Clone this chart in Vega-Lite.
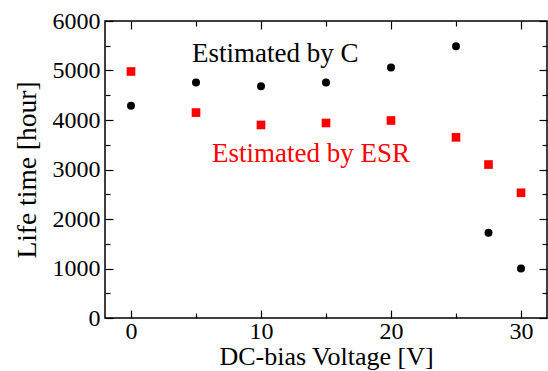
{
  "$schema": "https://vega.github.io/schema/vega-lite/v6.json",
  "width": 442,
  "height": 297,
  "autosize": {"type": "none"},
  "padding": {"left": 105, "top": 21, "right": 1, "bottom": 53},
  "background": "white",
  "config": {
    "view": {"stroke": "black", "strokeWidth": 1.5},
    "axis": {
      "domain": false,
      "grid": false,
      "labelFont": "Liberation Serif",
      "labelFontSize": 24,
      "labelColor": "black",
      "titleFont": "Liberation Serif",
      "titleFontSize": 27.5,
      "titleFontWeight": "normal",
      "titleColor": "black",
      "tickColor": "black",
      "tickWidth": 1.2
    }
  },
  "datasets": {
    "byC": [
      {"voltage": 0, "life": 4290},
      {"voltage": 5, "life": 4760},
      {"voltage": 10, "life": 4680},
      {"voltage": 15, "life": 4760},
      {"voltage": 20, "life": 5060},
      {"voltage": 25, "life": 5490},
      {"voltage": 27.5, "life": 1720},
      {"voltage": 30, "life": 1000}
    ],
    "byESR": [
      {"voltage": 0, "life": 4980},
      {"voltage": 5, "life": 4150},
      {"voltage": 10, "life": 3900},
      {"voltage": 15, "life": 3940},
      {"voltage": 20, "life": 3990},
      {"voltage": 25, "life": 3650},
      {"voltage": 27.5, "life": 3100},
      {"voltage": 30, "life": 2530}
    ],
    "labels": [
      {"voltage": 4.69, "life": 5178, "text": "Estimated by C", "series": "C"},
      {"voltage": 6.23, "life": 3158, "text": "Estimated by ESR", "series": "ESR"}
    ]
  },
  "resolve": {"axis": {"x": "independent", "y": "independent"}},
  "layer": [
    {
      "data": {"name": "byC"},
      "mark": {"type": "point", "shape": "circle", "filled": true, "color": "black", "size": 64, "opacity": 1},
      "encoding": {
        "x": {
          "field": "voltage", "type": "quantitative",
          "scale": {"domain": [-2, 32], "nice": false, "zero": false},
          "axis": {
            "orient": "bottom",
            "title": "DC-bias Voltage [V]",
            "titleFontSize": 26,
            "values": [0, 5, 10, 15, 20, 25, 30],
            "labelExpr": "datum.value % 10 === 0 ? datum.label : ''",
            "tickSize": {"condition": {"test": "datum.value % 10 === 0", "value": -8}, "value": -5},
            "labelPadding": 9,
            "titlePadding": 0
          }
        },
        "y": {
          "field": "life", "type": "quantitative",
          "scale": {"domain": [0, 6000], "nice": false},
          "axis": {
            "orient": "left",
            "title": "Life time [hour]",
            "values": [0, 500, 1000, 1500, 2000, 2500, 3000, 3500, 4000, 4500, 5000, 5500, 6000],
            "labelExpr": "datum.value % 1000 === 0 ? datum.label : ''",
            "format": "d",
            "tickSize": {"condition": {"test": "datum.value % 1000 === 0", "value": -8}, "value": -5},
            "labelPadding": 13,
            "titlePadding": 11
          }
        }
      }
    },
    {
      "data": {"name": "byESR"},
      "mark": {"type": "square", "color": "#ff0000", "size": 75, "opacity": 1},
      "encoding": {
        "x": {
          "field": "voltage", "type": "quantitative",
          "scale": {"domain": [-2, 32], "nice": false, "zero": false},
          "axis": {
            "orient": "top",
            "title": null,
            "labels": false,
            "values": [0, 5, 10, 15, 20, 25, 30],
            "tickSize": {"condition": {"test": "datum.value % 10 === 0", "value": -8}, "value": -5}
          }
        },
        "y": {
          "field": "life", "type": "quantitative",
          "scale": {"domain": [0, 6000], "nice": false},
          "axis": {
            "orient": "right",
            "title": null,
            "labels": false,
            "values": [0, 500, 1000, 1500, 2000, 2500, 3000, 3500, 4000, 4500, 5000, 5500, 6000],
            "tickSize": {"condition": {"test": "datum.value % 1000 === 0", "value": -8}, "value": -5}
          }
        }
      }
    },
    {
      "data": {"name": "labels"},
      "mark": {"type": "text", "font": "Liberation Serif", "fontSize": 27, "align": "left", "baseline": "alphabetic"},
      "encoding": {
        "x": {"field": "voltage", "type": "quantitative", "scale": {"domain": [-2, 32], "nice": false, "zero": false}, "axis": null},
        "y": {"field": "life", "type": "quantitative", "scale": {"domain": [0, 6000], "nice": false}, "axis": null},
        "text": {"field": "text"},
        "color": {"field": "series", "type": "nominal", "scale": {"domain": ["C", "ESR"], "range": ["black", "#ff0000"]}, "legend": null}
      }
    }
  ]
}
